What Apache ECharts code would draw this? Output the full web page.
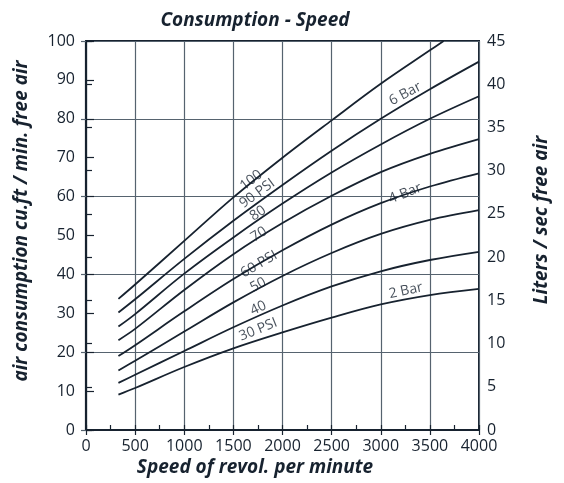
<!DOCTYPE html>
<html>
<head>
<meta charset="utf-8">
<script src="https://cdn.jsdelivr.net/npm/echarts@6/dist/echarts.min.js"></script>
<style>html,body{margin:0;padding:0;background:#fff}#c{width:564px;height:483px}</style>
</head>
<body>
<div id="c"></div>
<script>
// ---- data ----
const rpm = [330, 500, 1000, 1500, 2000, 2500, 3000, 3500, 4000];
const rpm100 = [330, 500, 1000, 1500, 2000, 2500, 3000, 3500, 3640];
const psi100 = [33.7, 37.4, 48.6, 59.8, 70.0, 79.6, 89.0, 97.6, 100];
const psi90  = [30.2, 33.6, 44.0, 53.8, 63.0, 71.8, 80.0, 87.6, 94.7];
const psi80  = [26.6, 29.8, 40.2, 49.5, 58.2, 66.2, 73.4, 80.0, 85.8];
const psi70  = [23.1, 26.0, 36.0, 45.2, 53.2, 60.2, 66.3, 71.0, 74.8];
const psi60  = [19.0, 21.8, 30.5, 38.8, 46.2, 52.8, 58.3, 62.6, 66.0];
const psi50  = [15.3, 17.8, 25.3, 32.8, 39.6, 45.5, 50.4, 54.0, 56.5];
const psi40  = [12.1, 14.2, 20.3, 26.4, 32.0, 36.9, 40.8, 43.7, 45.8];
const psi30  = [9.1, 10.8, 16.2, 21.0, 25.1, 28.9, 32.3, 34.7, 36.3];

const curveLabels = ["100", "90 PSI", "80", "70", "60 PSI", "50", "40", "30 PSI", "6 Bar", "4 Bar", "2 Bar"];
const labelRpm    = [1682, 1743, 1750, 1760, 1760, 1753, 1753, 1753, 3249, 3249, 3255];
const labelValue  = [64.2, 60.8, 55.7, 50.3, 42.6, 37.3, 31.3, 25.8, 86.4, 60.8, 35.8];
const labelAngle  = [38, 36, 34, 32, 30, 28, 25, 22, 28, 22, 12];

const xTicks = [0, 500, 1000, 1500, 2000, 2500, 3000, 3500, 4000];

// ---- chart ----
const ink = '#17222f';
const gridCol = '#56636f';
const FONT = "'Open Sans', 'Noto Sans', sans-serif";

function pairs(xs, ys){ return xs.map((x,i)=>[x, ys[i]]); }

const curves = [
  pairs(rpm100, psi100), pairs(rpm, psi90), pairs(rpm, psi80), pairs(rpm, psi70),
  pairs(rpm, psi60), pairs(rpm, psi50), pairs(rpm, psi40), pairs(rpm, psi30)
];

const lineSeries = curves.map(d => ({
  type: 'line', data: d, smooth: 0.35, symbol: 'none', silent: true,
  xAxisIndex: 0, yAxisIndex: 0,
  lineStyle: { color: ink, width: 1.8 }, z: 3
}));

const labelData = curveLabels.map((t, i) => ({
  value: [labelRpm[i], labelValue[i]],
  label: { show: true, formatter: t, rotate: labelAngle[i], position: 'inside',
           color: ink, fontSize: 14, fontFamily: FONT }
}));

const chart = echarts.init(document.getElementById('c'), null, { renderer: 'canvas' });
chart.setOption({
  backgroundColor: '#fff',
  animation: false,
  grid: { left: 86, right: 85, top: 41, bottom: 53, show: true, borderColor: ink, borderWidth: 2, backgroundColor: 'transparent' },
  xAxis: [
    { type: 'value', min: 0, max: 4000, interval: 500, position: 'bottom',
      axisLine: { show: true, lineStyle: { color: ink, width: 2 } },
      axisTick: { show: true, inside: false, length: 5, lineStyle: { color: ink, width: 1.2 } },
      axisLabel: { color: ink, fontSize: 16, fontFamily: FONT, margin: 8,
                   formatter: v => xTicks.indexOf(v) >= 0 ? String(v) : '' },
      splitLine: { show: true, lineStyle: { color: gridCol, width: 1.2 } } },
    { type: 'value', min: 0, max: 4000, interval: 250, position: 'bottom',
      axisLine: { show: false }, axisLabel: { show: false },
      axisTick: { show: true, inside: true, length: 5, lineStyle: { color: ink, width: 1.2 } },
      splitLine: { show: false } }
  ],
  yAxis: [
    { type: 'value', min: 0, max: 100, interval: 10, position: 'left',
      axisLine: { show: true, lineStyle: { color: ink, width: 2.2 } },
      axisTick: { show: true, inside: true, length: 8, lineStyle: { color: ink, width: 1.2 } },
      axisLabel: { color: ink, fontSize: 16, fontFamily: FONT, margin: 11 },
      splitLine: { show: false } },
    { type: 'value', min: 0, max: 45, interval: 5, position: 'right',
      axisLine: { show: true, lineStyle: { color: ink, width: 1.6 } },
      axisTick: { show: true, inside: false, length: 6, lineStyle: { color: ink, width: 1.2 } },
      axisLabel: { color: ink, fontSize: 16, fontFamily: FONT, margin: 8 },
      splitLine: { show: false } },
    { type: 'value', min: 0, max: 100, interval: 20, position: 'left',
      axisLine: { show: false }, axisLabel: { show: false },
      axisTick: { show: true, inside: false, length: 5, lineStyle: { color: gridCol, width: 1.2 } },
      splitLine: { show: true, lineStyle: { color: gridCol, width: 1.2 } } }
  ],
  series: lineSeries.concat([{
    type: 'scatter', data: labelData, symbolSize: 1, itemStyle: { color: 'rgba(0,0,0,0)' },
    xAxisIndex: 0, yAxisIndex: 0, silent: true, z: 5
  }]),
  graphic: [
    { type: 'text', x: 255, y: 21, style: { text: 'Consumption - Speed', fill: ink,
      font: "italic bold 19px " + FONT, textAlign: 'center', textVerticalAlign: 'middle' } },
    { type: 'text', x: 255, y: 468, style: { text: 'Speed of revol. per minute', fill: ink,
      font: "italic bold 19px " + FONT, textAlign: 'center', textVerticalAlign: 'middle' } },
    { type: 'text', x: 22, y: 221, rotation: Math.PI / 2, style: { text: 'air consumption cu.ft / min. free air', fill: ink,
      font: "italic bold 19px " + FONT, textAlign: 'center', textVerticalAlign: 'middle' } },
    { type: 'text', x: 542, y: 220, rotation: Math.PI / 2, style: { text: 'Liters / sec free air', fill: ink,
      font: "italic bold 19px " + FONT, textAlign: 'center', textVerticalAlign: 'middle' } }
  ]
});
</script>
</body>
</html>
